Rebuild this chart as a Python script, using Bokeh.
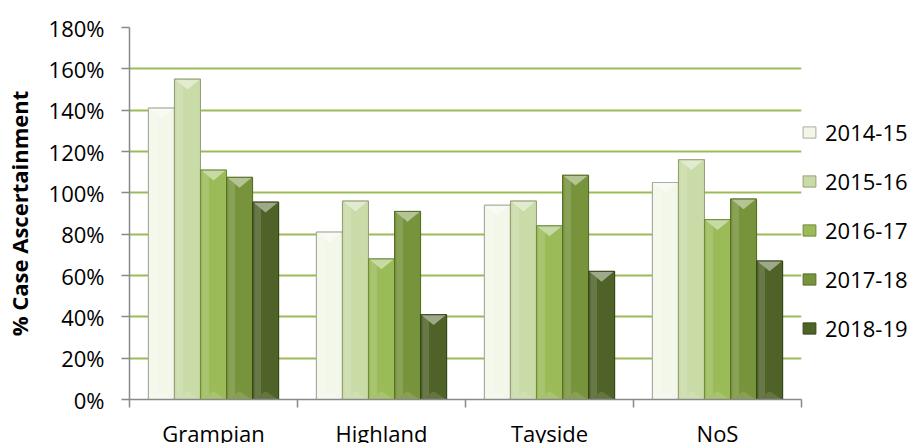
from bokeh.plotting import figure
from bokeh.models import FixedTicker, NumeralTickFormatter, Legend, LegendItem, Range1d
from bokeh.embed import file_html
from bokeh.resources import INLINE

# ---- data ----
regions = ["Grampian", "Highland", "Tayside", "NoS"]
years = ["2014-15", "2015-16", "2016-17", "2017-18", "2018-19"]
v2014_15 = [1.41, 0.81, 0.94, 1.05]
v2015_16 = [1.55, 0.96, 0.96, 1.16]
v2016_17 = [1.11, 0.68, 0.84, 0.87]
v2017_18 = [1.075, 0.91, 1.085, 0.97]
v2018_19 = [0.955, 0.41, 0.62, 0.67]
y_ticks = [0, 0.2, 0.4, 0.6, 0.8, 1.0, 1.2, 1.4, 1.6, 1.8]

series = [v2014_15, v2015_16, v2016_17, v2017_18, v2018_19]
colors = ["#F3F7EA", "#C9DBA6", "#9BBB59", "#77933C", "#4F6228"]
edge_colors = ["#A9AC9F", "#94A27C", "#6F8A3C", "#56702A", "#38461C"]


def mix(hex_color, frac, target=(255, 255, 255)):
    h = hex_color.lstrip("#")
    r, g, b = (int(h[i:i + 2], 16) for i in (0, 2, 4))
    r = round(r + (target[0] - r) * frac)
    g = round(g + (target[1] - g) * frac)
    b = round(b + (target[2] - b) * frac)
    return "#%02X%02X%02X" % (r, g, b)


FONT = "Open Sans"
FSIZE = "22px"
GRID = "#9BBB59"
AXIS = "#898989"

p = figure(frame_width=672, frame_height=372,
           x_range=Range1d(0, 4), y_range=Range1d(0, 1.8),
           output_backend="svg", toolbar_location=None,
           min_border_left=128, min_border_right=0,
           min_border_top=27, min_border_bottom=5)
p.outline_line_color = None
p.background_fill_color = "white"
p.border_fill_color = "white"
p.xgrid.grid_line_color = None
p.ygrid.grid_line_color = GRID
p.ygrid.grid_line_width = 2
p.ygrid.ticker = FixedTicker(ticks=y_ticks)

bar_w = 0.155
tri_h = 0.05
renderers = []
for k, vals in enumerate(series):
    off = (k - 2) * bar_w
    xs = [i + 0.5 + off for i in range(len(regions))]
    r = p.vbar(x=xs, top=vals, width=bar_w, bottom=0,
               fill_color=colors[k], line_color=edge_colors[k], line_width=1)
    renderers.append(r)
    # left highlight strip
    p.vbar(x=[x - bar_w * 0.3 for x in xs], top=vals, width=bar_w * 0.25,
           fill_color=mix(colors[k], 0.18), line_color=None, fill_alpha=0.8)
    # bevel triangles on top and bottom
    txs = [[x - bar_w / 2 + 0.003, x + bar_w / 2 - 0.003, x] for x in xs]
    tys = [[v, v, v - tri_h] for v in vals]
    p.patches(txs, tys, fill_color=mix(colors[k], 0.45), line_color=None)
    bys = [[0, 0, tri_h * 0.8] for _ in vals]
    p.patches(txs, bys, fill_color=mix(colors[k], 0.12), line_color=None)
    # outline on top again
    p.vbar(x=xs, top=vals, width=bar_w, bottom=0,
           fill_color=None, line_color=edge_colors[k], line_width=1)

# y axis
ya = p.yaxis[0]
ya.ticker = FixedTicker(ticks=y_ticks)
ya.formatter = NumeralTickFormatter(format="0%")
ya.axis_line_color = AXIS
ya.axis_line_width = 1.5
ya.major_tick_line_color = AXIS
ya.major_tick_line_width = 1.5
ya.major_tick_out = 8
ya.major_tick_in = 0
ya.minor_tick_line_color = None
ya.major_label_text_font = FONT
ya.major_label_text_font_size = FSIZE
ya.major_label_text_color = "black"
ya.major_label_standoff = 17
ya.axis_label = "% Case Ascertainment"
ya.axis_label_text_font = FONT
ya.axis_label_text_font_size = "22px"
ya.axis_label_text_font_style = "bold"
ya.axis_label_text_color = "black"
ya.axis_label_standoff = 12

# x axis
xa = p.xaxis[0]
xa.ticker = FixedTicker(ticks=[i + 0.5 for i in range(len(regions))],
                        minor_ticks=list(range(len(regions) + 1)))
xa.major_label_overrides = {i + 0.5: name for i, name in enumerate(regions)}
xa.axis_line_color = AXIS
xa.axis_line_width = 1.5
xa.major_tick_line_color = None
xa.major_tick_out = 0
xa.major_tick_in = 0
xa.minor_tick_line_color = AXIS
xa.minor_tick_line_width = 1.5
xa.minor_tick_out = 8
xa.minor_tick_in = 0
xa.major_label_text_font = FONT
xa.major_label_text_font_size = FSIZE
xa.major_label_text_color = "black"
xa.major_label_standoff = 10

legend = Legend(items=[LegendItem(label=y, renderers=[r]) for y, r in zip(years, renderers)],
                location=(0, 56), orientation="vertical",
                border_line_color=None, background_fill_alpha=0,
                padding=15, margin=0, spacing=19, label_height=24, label_width=70,
                glyph_width=16, glyph_height=14, label_standoff=8,
                label_text_font=FONT, label_text_font_size=FSIZE,
                label_text_color="black")
p.add_layout(legend, "right")

open("out.html", "w").write(file_html(p, INLINE))
